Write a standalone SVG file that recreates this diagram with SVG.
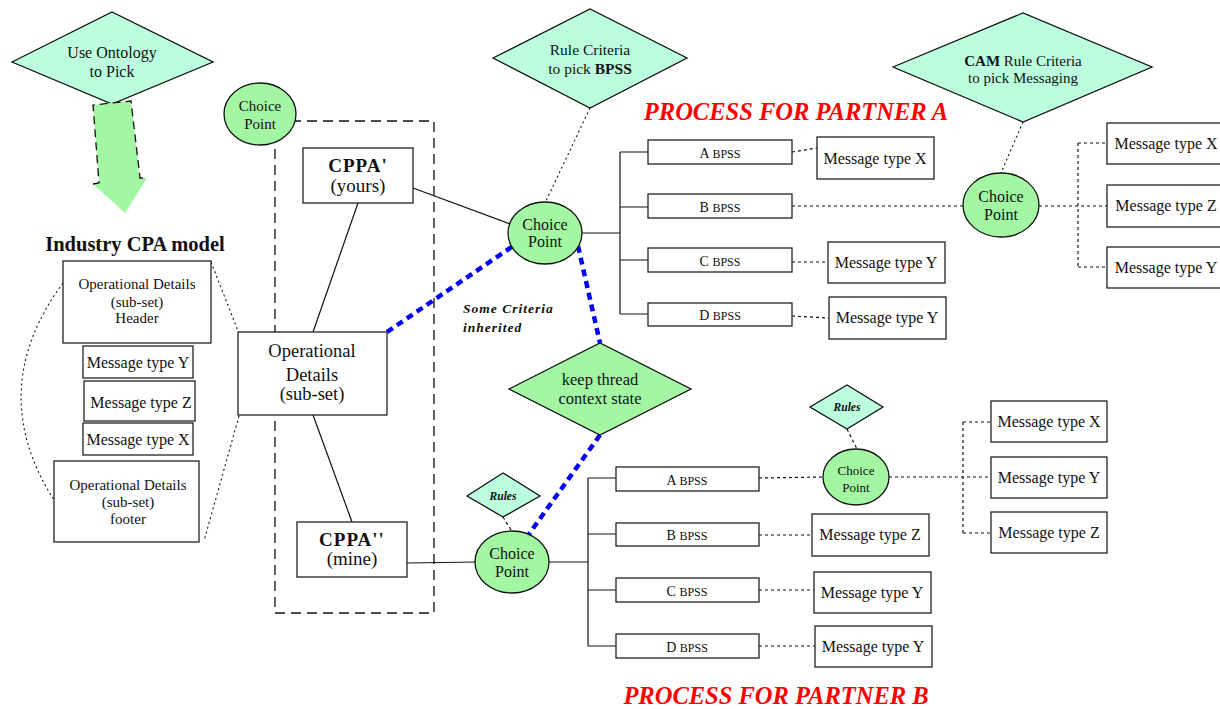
<svg xmlns="http://www.w3.org/2000/svg" width="1220" height="709" viewBox="0 0 1220 709">
<style>
text{font-family:"Liberation Serif","Times New Roman",serif;fill:#111;text-anchor:middle}
.box{fill:#fff;stroke:#222;stroke-width:1.3}
.dia{fill:#bbffdd;stroke:#111;stroke-width:1.3}
.grn{fill:#a3f7a3;stroke:#111;stroke-width:1.3}
.ln{fill:none;stroke:#111;stroke-width:1.2}
.dsh{fill:none;stroke:#111;stroke-width:1.2;stroke-dasharray:3,3}
.dot{fill:none;stroke:#111;stroke-width:1.1;stroke-dasharray:2,3}
.blue{fill:none;stroke:#0000ff;stroke-width:4.5;stroke-dasharray:7,5}
.m{font-size:16px}
.b{font-size:14px}
.b tspan.s{font-size:12px}
.red{font-size:24.5px;font-weight:bold;font-style:italic;fill:#ff0000}
</style>

<g id="connectors">
  <path class="dot" d="M63,283 Q-16,390 54,500"/>
  <line class="dot" x1="211" y1="262" x2="238" y2="331"/>
  <line class="dot" x1="239" y1="416" x2="204" y2="541"/>
  <rect x="275" y="121" width="159" height="492" fill="none" stroke="#111" stroke-width="1.3" stroke-dasharray="10,6"/>
  <line class="ln" x1="358" y1="203" x2="313" y2="332"/>
  <line class="ln" x1="313" y1="415" x2="352" y2="522"/>
  <line class="ln" x1="413" y1="188" x2="510" y2="224"/>
  <line class="ln" x1="407" y1="563" x2="476" y2="562"/>
  <line class="dot" x1="590" y1="108" x2="545" y2="203"/>
  <line class="dot" x1="1023" y1="122" x2="1001" y2="173"/>
  <line class="dsh" x1="503" y1="517" x2="513" y2="533"/>
  <line class="dsh" x1="847" y1="429" x2="857" y2="449"/>
  <path class="ln" d="M582,233 H620 M620,152 V314 M620,152 H648 M620,207 H648 M620,260 H648 M620,314 H648"/>
  <line class="dsh" x1="792" y1="152" x2="817" y2="148"/>
  <line class="dsh" x1="792" y1="206" x2="963" y2="206"/>
  <line class="dsh" x1="792" y1="262" x2="828" y2="262"/>
  <line class="dsh" x1="792" y1="316" x2="829" y2="318"/>
  <path class="dsh" d="M1039,206 H1107 M1078,143 V267 M1078,143 H1107 M1078,267 H1107"/>
  <path class="ln" d="M549,562 H588 M588,478 V646 M588,478 H616 M588,534 H616 M588,590 H616 M588,646 H616"/>
  <line class="dsh" x1="759" y1="478" x2="823" y2="477"/>
  <line class="dsh" x1="759" y1="535" x2="812" y2="535"/>
  <line class="dsh" x1="759" y1="590" x2="814" y2="590"/>
  <line class="dsh" x1="759" y1="646" x2="815" y2="646"/>
  <path class="dsh" d="M889,477 H991 M963,422 V533 M963,422 H991 M963,533 H991"/>
  <line class="blue" x1="387" y1="332" x2="513" y2="246"/>
  <line class="blue" x1="578" y1="246" x2="600" y2="343"/>
  <line class="blue" x1="600" y1="435" x2="529" y2="534"/>
</g>

<g id="ontology">
  <polygon class="dia" points="12,62 112,12 213,62 112,104"/>
  <text class="m" x="112" y="58">Use Ontology</text>
  <text class="m" x="112" y="77">to Pick</text>
</g>
<g id="ontology-arrow">
  <polygon points="93,105 131,101 140,178 147,178 125,213 93,184 99,183" fill="#a3f7a3"/>
  <polyline points="93,184 99,183 93,105 131,101 140,178 147,178" fill="none" stroke="#111" stroke-width="1.3" stroke-dasharray="8,5"/>
</g>

<text x="135" y="251" style="font-size:20.5px;font-weight:bold">Industry CPA model</text>

<g id="header">
  <rect class="box" x="63" y="261" width="148" height="82"/>
  <text x="137" y="289" style="font-size:15px">Operational Details</text>
  <text x="137" y="307" style="font-size:15px">(sub-set)</text>
  <text x="137" y="323" style="font-size:15px">Header</text>
</g>
<g id="left-msg-y">
  <rect class="box" x="83" y="346" width="110" height="32"/>
  <text class="m" x="138" y="368">Message type Y</text>
</g>
<g id="left-msg-z">
  <rect class="box" x="84" y="381" width="111" height="40"/>
  <text class="m" x="141" y="408">Message type Z</text>
</g>
<g id="left-msg-x">
  <rect class="box" x="83" y="423" width="110" height="32"/>
  <text class="m" x="138" y="445">Message type X</text>
</g>
<g id="footer">
  <rect class="box" x="54" y="461" width="145" height="81"/>
  <text x="128" y="490" style="font-size:15px">Operational Details</text>
  <text x="128" y="507" style="font-size:15px">(sub-set)</text>
  <text x="128" y="524" style="font-size:15px">footer</text>
</g>

<g id="choice-top">
  <ellipse class="grn" cx="260" cy="114" rx="36" ry="31"/>
  <text x="260" y="111" style="font-size:15px">Choice</text>
  <text x="260" y="129" style="font-size:15px">Point</text>
</g>

<g id="cppa-yours">
  <rect class="box" x="303" y="148" width="110" height="55"/>
  <text x="358" y="172" style="font-size:19px;font-weight:bold;letter-spacing:1px">CPPA'</text>
  <text x="358" y="192" style="font-size:19px">(yours)</text>
</g>
<g id="op-details">
  <rect class="box" x="238" y="332" width="149" height="83"/>
  <text x="312" y="357" style="font-size:18.5px">Operational</text>
  <text x="312" y="381" style="font-size:18.5px">Details</text>
  <text x="312" y="400" style="font-size:18.5px">(sub-set)</text>
</g>
<g id="cppa-mine">
  <rect class="box" x="297" y="522" width="110" height="55"/>
  <text x="352" y="546" style="font-size:19px;font-weight:bold;letter-spacing:1px">CPPA''</text>
  <text x="352" y="565" style="font-size:19px">(mine)</text>
</g>

<g id="rule-bpss">
  <polygon class="dia" points="493,58 590,9 687,58 590,108"/>
  <text x="590" y="55" style="font-size:15.5px">Rule Criteria</text>
  <text x="590" y="74" style="font-size:15.5px">to pick <tspan font-weight="bold">BPSS</tspan></text>
</g>
<text class="red" x="796" y="120">PROCESS FOR PARTNER A</text>

<g id="choice-a">
  <ellipse class="grn" cx="545" cy="233" rx="37" ry="31"/>
  <text class="m" x="545" y="230">Choice</text>
  <text class="m" x="545" y="247">Point</text>
</g>
<text x="463" y="313" style="font-size:13.5px;font-weight:bold;font-style:italic;letter-spacing:1px;text-anchor:start">Some Criteria</text>
<text x="463" y="332" style="font-size:13.5px;font-weight:bold;font-style:italic;letter-spacing:1px;text-anchor:start">inherited</text>

<g id="a-abpss"><rect class="box" x="648" y="140" width="144" height="24"/><text class="b" x="720" y="158">A <tspan class="s">BPSS</tspan></text></g>
<g id="a-bbpss"><rect class="box" x="648" y="194" width="144" height="24"/><text class="b" x="720" y="212">B <tspan class="s">BPSS</tspan></text></g>
<g id="a-cbpss"><rect class="box" x="648" y="248" width="144" height="24"/><text class="b" x="720" y="266">C <tspan class="s">BPSS</tspan></text></g>
<g id="a-dbpss"><rect class="box" x="648" y="303" width="144" height="23"/><text class="b" x="720" y="320">D <tspan class="s">BPSS</tspan></text></g>

<g id="a-msg-x"><rect class="box" x="817" y="137" width="117" height="42"/><text class="m" x="875" y="164">Message type X</text></g>
<g id="a-msg-y1"><rect class="box" x="828" y="242" width="117" height="41"/><text class="m" x="886" y="268">Message type Y</text></g>
<g id="a-msg-y2"><rect class="box" x="829" y="297" width="117" height="42"/><text class="m" x="887" y="323">Message type Y</text></g>

<g id="cam-rule">
  <polygon class="dia" points="893,67 1023,13 1152,67 1023,122"/>
  <text x="1023" y="66" style="font-size:15px"><tspan font-weight="bold">CAM</tspan> Rule Criteria</text>
  <text x="1023" y="83" style="font-size:15px">to pick Messaging</text>
</g>
<g id="choice-cam">
  <ellipse class="grn" cx="1001" cy="205" rx="38" ry="32"/>
  <text class="m" x="1001" y="202">Choice</text>
  <text class="m" x="1001" y="220">Point</text>
</g>
<g id="cam-msg-x"><rect class="box" x="1107" y="123" width="118" height="41"/><text class="m" x="1166" y="149">Message type X</text></g>
<g id="cam-msg-z"><rect class="box" x="1107" y="185" width="118" height="42"/><text class="m" x="1166" y="211">Message type Z</text></g>
<g id="cam-msg-y"><rect class="box" x="1107" y="247" width="118" height="41"/><text class="m" x="1166" y="273">Message type Y</text></g>

<g id="keep-thread">
  <polygon class="grn" points="509,389 600,343 691,389 600,435"/>
  <text x="600" y="385" style="font-size:16.5px">keep thread</text>
  <text x="600" y="404" style="font-size:16.5px">context state</text>
</g>

<g id="rules-b">
  <polygon class="dia" points="467,496 503,473 540,496 503,517"/>
  <text x="503" y="500" style="font-size:11.5px;font-weight:bold;font-style:italic">Rules</text>
</g>
<g id="choice-b">
  <ellipse class="grn" cx="512" cy="562" rx="37" ry="31"/>
  <text class="m" x="512" y="559">Choice</text>
  <text class="m" x="512" y="577">Point</text>
</g>

<g id="b-abpss"><rect class="box" x="616" y="467" width="143" height="24"/><text class="b" x="687" y="485">A <tspan class="s">BPSS</tspan></text></g>
<g id="b-bbpss"><rect class="box" x="616" y="523" width="143" height="23"/><text class="b" x="687" y="540">B <tspan class="s">BPSS</tspan></text></g>
<g id="b-cbpss"><rect class="box" x="616" y="578" width="143" height="24"/><text class="b" x="687" y="596">C <tspan class="s">BPSS</tspan></text></g>
<g id="b-dbpss"><rect class="box" x="616" y="634" width="143" height="24"/><text class="b" x="687" y="652">D <tspan class="s">BPSS</tspan></text></g>

<g id="b-msg-z"><rect class="box" x="812" y="514" width="117" height="42"/><text class="m" x="870" y="540">Message type Z</text></g>
<g id="b-msg-y1"><rect class="box" x="814" y="572" width="117" height="41"/><text class="m" x="872" y="598">Message type Y</text></g>
<g id="b-msg-y2"><rect class="box" x="815" y="626" width="117" height="41"/><text class="m" x="873" y="652">Message type Y</text></g>

<g id="rules-small">
  <polygon class="dia" points="810,407 847,385 883,407 847,429"/>
  <text x="847" y="411" style="font-size:11.5px;font-weight:bold;font-style:italic">Rules</text>
</g>
<g id="choice-small">
  <ellipse class="grn" cx="856" cy="477" rx="33" ry="28"/>
  <text x="856" y="475" style="font-size:13px">Choice</text>
  <text x="856" y="492" style="font-size:13px">Point</text>
</g>
<g id="s-msg-x"><rect class="box" x="991" y="401" width="116" height="41"/><text class="m" x="1049" y="427">Message type X</text></g>
<g id="s-msg-y"><rect class="box" x="991" y="457" width="116" height="41"/><text class="m" x="1049" y="483">Message type Y</text></g>
<g id="s-msg-z"><rect class="box" x="991" y="512" width="116" height="41"/><text class="m" x="1049" y="538">Message type Z</text></g>

<text class="red" x="776" y="704">PROCESS FOR PARTNER B</text>
</svg>
